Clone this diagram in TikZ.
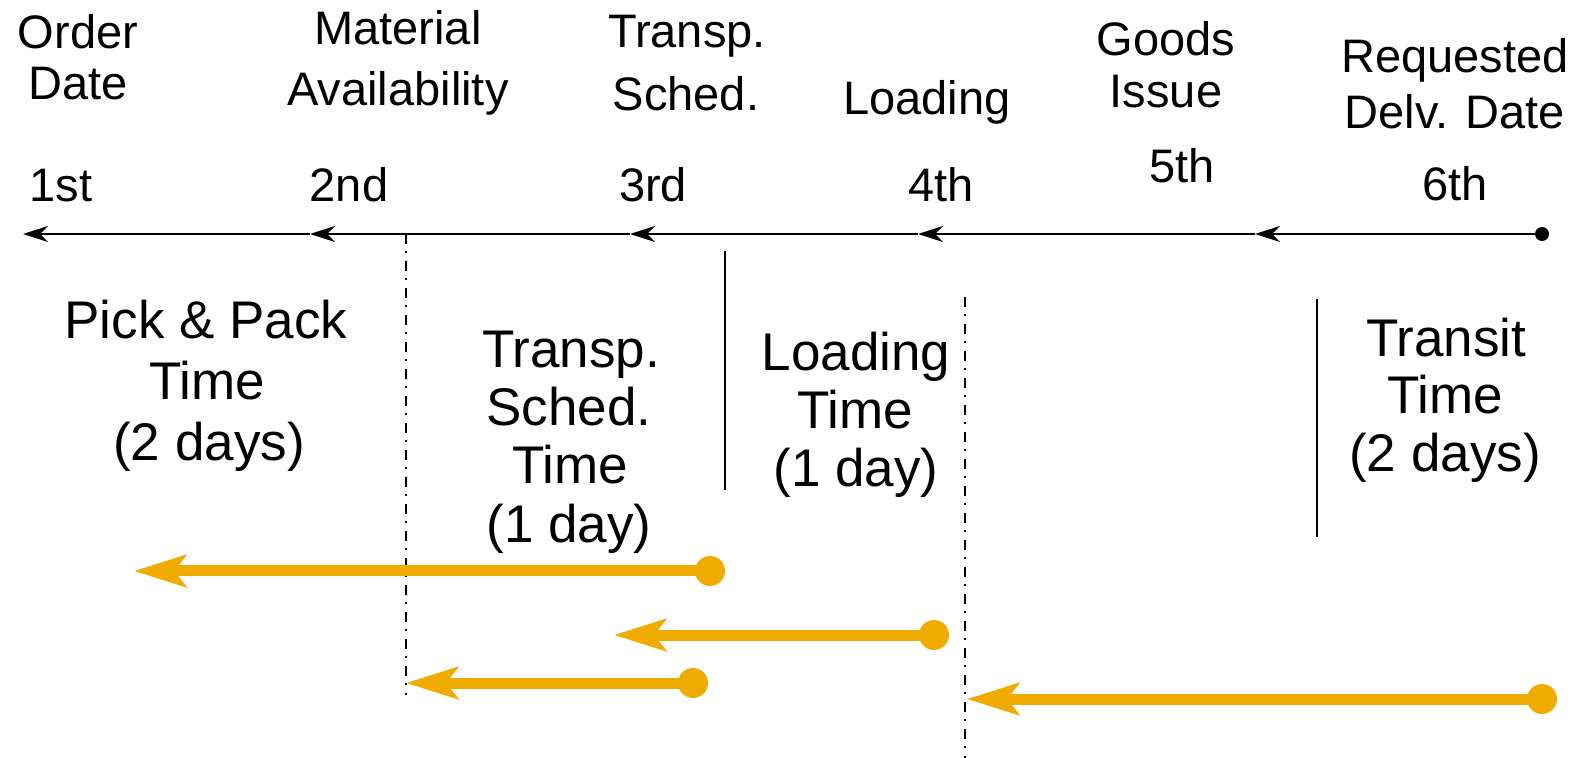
\documentclass[tikz,border=0pt]{standalone}
\usepackage{fontspec}
\setmainfont{Liberation Sans}
\usetikzlibrary{arrows.meta}
\definecolor{gold}{RGB}{240,171,0}
\begin{document}
\begin{tikzpicture}[x=0.5pt,y=-0.5pt,
  sm/.style={font=\fontsize{23.5}{28}\selectfont, anchor=base, inner sep=0pt},
  lg/.style={font=\fontsize{26.5}{32}\selectfont, anchor=base, inner sep=0pt},
  axis/.style={line width=1.25pt, -{Stealth[length=12.5pt,width=8pt,inset=4pt]}},
  guide/.style={line width=1pt, dash pattern=on 5pt off 3.5pt on 1pt off 4pt},
  bar/.style={line width=1pt},
  span/.style={gold, line width=5.5pt, -{Stealth[length=26pt,width=16pt,inset=6pt]}},
  spandot/.style={circle, fill=gold, inner sep=0pt, minimum size=15pt},
  enddot/.style={circle, fill=black, inner sep=0pt, minimum size=7pt},
]
\useasboundingbox (0,0) rectangle (1579,758);

% milestone names
\node[sm] (od1) at (78,49)  {Order};
\node[sm] (od2) at (78,100) {Date};
\node[sm] (ma1) at (398,45)  {Material};
\node[sm] (ma2) at (398,106) {Availability};
\node[sm] (ts1) at (687,48)  {Transp.};
\node[sm] (ts2) at (686,111) {Sched.};
\node[sm] (ld)  at (927,115) {Loading};
\node[sm] (gi1) at (1166,56)  {Goods};
\node[sm] (gi2) at (1166,108) {Issue};
\node[sm] (rd1) at (1455,73)  {Requested};
\node[sm] (rd2) at (1455,129) {Delv. Date};

% ordinals
\node[sm] (n1) at (61,202)   {1st};
\node[sm] (n2) at (349,202)  {2nd};
\node[sm] (n3) at (653,202)  {3rd};
\node[sm] (n4) at (941,202)  {4th};
\node[sm] (n5) at (1182,183) {5th};
\node[sm] (n6) at (1455,201) {6th};

% time axis, running backwards from the delivery date
\node[enddot] (e6) at (1542,234) {};
\coordinate (a5) at (1255,234);
\coordinate (a4) at (918,234);
\coordinate (a3) at (630,234);
\coordinate (a2) at (310,234);
\coordinate (a1) at (23,234);
\draw[axis] (e6.center) -- (a5);
\draw[axis] (a5) -- (a4);
\draw[axis] (a4) -- (a3);
\draw[axis] (a3) -- (a2);
\draw[axis] (a2) -- (a1);

% separators
\coordinate (g1t) at (406,234);  \coordinate (g1b) at (406,695);
\coordinate (g2t) at (965,297);  \coordinate (g2b) at (965,758);
\coordinate (b1t) at (725,251);  \coordinate (b1b) at (725,490);
\coordinate (b2t) at (1317,299); \coordinate (b2b) at (1317,537);
\draw[guide] (g1t) -- (g1b);
\draw[guide] (g2t) -- (g2b);
\draw[bar] (b1t) -- (b1b);
\draw[bar] (b2t) -- (b2b);

% duration labels
\node[lg] (pp1) at (206,339) {Pick \& Pack};
\node[lg] (pp2) at (207,400) {Time};
\node[lg] (pp3) at (209,461) {(2 days)};
\node[lg] (tt1) at (571,368) {Transp.};
\node[lg] (tt2) at (569,426) {Sched.};
\node[lg] (tt3) at (570,484) {Time};
\node[lg] (tt4) at (569,543) {(1 day)};
\node[lg] (lt1) at (856,371) {Loading};
\node[lg] (lt2) at (855,429) {Time};
\node[lg] (lt3) at (856,487) {(1 day)};
\node[lg] (tr1) at (1446,357) {Transit};
\node[lg] (tr2) at (1445,414) {Time};
\node[lg] (tr3) at (1445,472) {(2 days)};

% backward scheduling spans
\node[spandot] (d1) at (710,571) {};
\coordinate (t1) at (134,571);
\node[spandot] (d2) at (934,635) {};
\coordinate (t2) at (614,635);
\node[spandot] (d3) at (693,683) {};
\coordinate (t3) at (406,683);
\node[spandot] (d4) at (1542,699) {};
\coordinate (t4) at (967,699);
\draw[span] (d1.center) -- (t1);
\draw[span] (d2.center) -- (t2);
\draw[span] (d3.center) -- (t3);
\draw[span] (d4.center) -- (t4);
\end{tikzpicture}
\end{document}
